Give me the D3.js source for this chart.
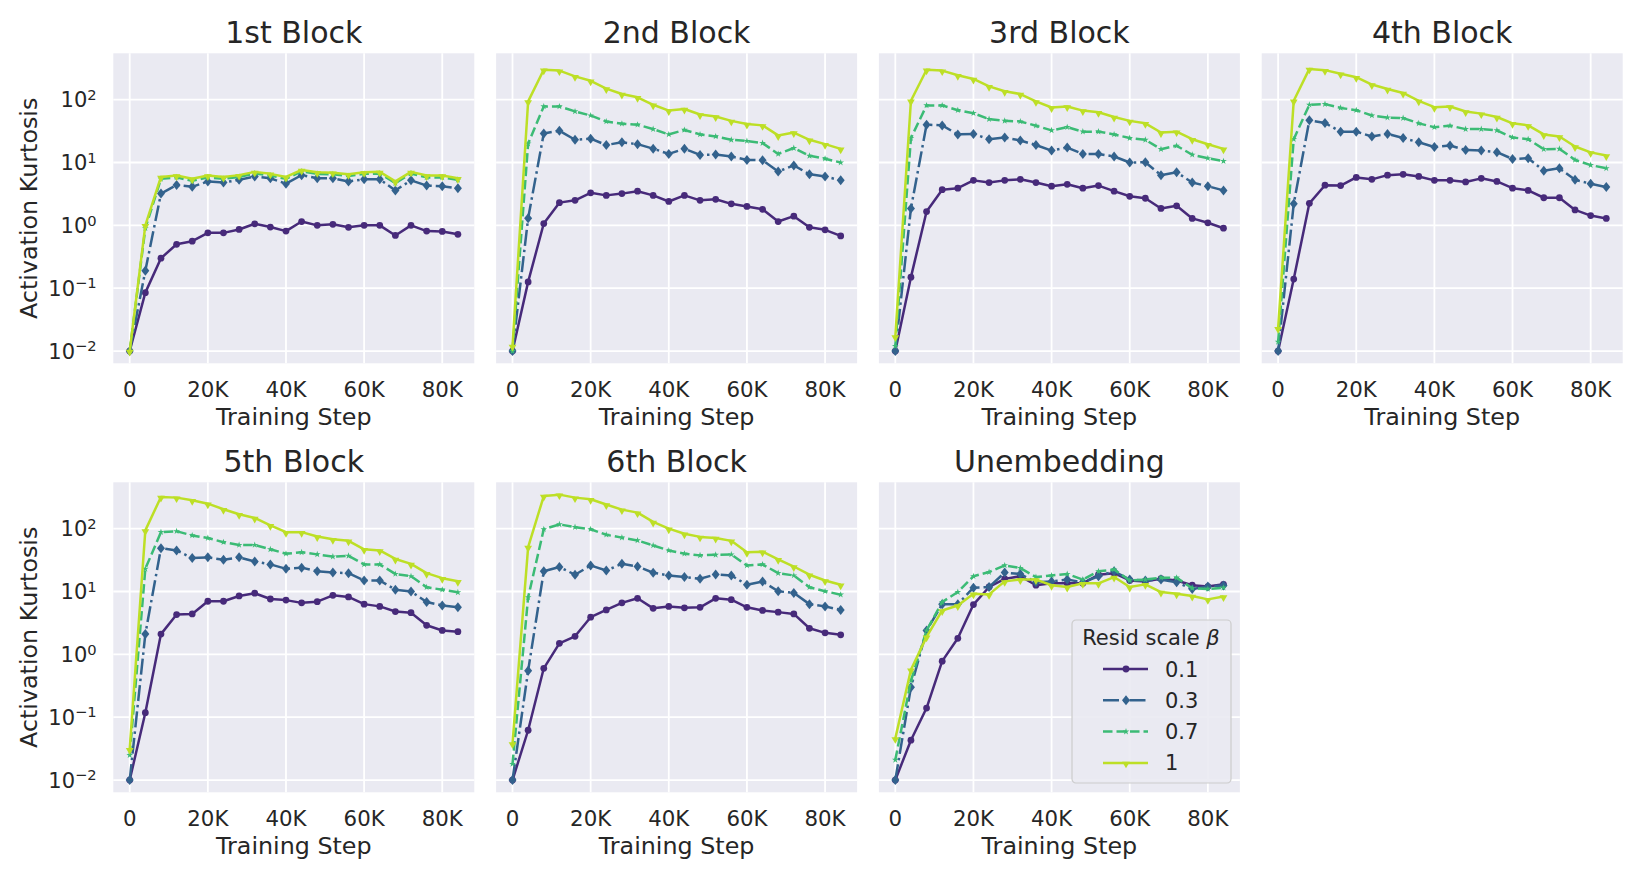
<html>
<head>
  <script src="https://d3js.org/d3.v7.min.js" charset="utf-8"></script>
  <title>Activation Kurtosis</title>
  <style>
    * {
      margin: 0;
      padding: 0;
    }
    body {
      background-color: white;
    }
    text {
      font-family: "DejaVu Sans", sans-serif;
      fill: #262626;
    }
  </style>
</head>
<body>
<div id="chart"></div>

<script>
  var steps = [0, 4000, 8000, 12000, 16000, 20000, 24000, 28000, 32000, 36000, 40000,
    44000, 48000, 52000, 56000, 60000, 64000, 68000, 72000, 76000, 80000, 84000];
  var betas = ["0.1", "0.3", "0.7", "1"];
  var titles = ["1st Block", "2nd Block", "3rd Block", "4th Block", "5th Block", "6th Block", "Unembedding"];
  var xTicks = [0, 20000, 40000, 60000, 80000];
  var xTickLabels = ["0", "20K", "40K", "60K", "80K"];
  var yTicks = [0.01, 0.1, 1, 10, 100];
  var yTickExps = ["\u22122", "\u22121", "0", "1", "2"];

  // one array per panel, one row per beta (0.1, 0.3, 0.7, 1)
  var block1 = [
    [0.01, 0.085, 0.30, 0.50, 0.56, 0.76, 0.76, 0.86, 1.06, 0.94, 0.81, 1.15, 1.0, 1.04, 0.93, 1.0, 1.0, 0.69, 1.0, 0.81, 0.80, 0.72],
    [0.01, 0.19, 3.2, 4.4, 4.1, 5.0, 4.8, 5.3, 6.0, 5.6, 4.6, 6.3, 5.6, 5.6, 5.0, 5.4, 5.4, 3.6, 5.2, 4.3, 4.2, 3.9],
    [0.01, 0.9, 5.5, 5.8, 5.1, 5.8, 5.5, 5.9, 6.7, 6.2, 5.5, 7.2, 6.6, 6.5, 6.1, 6.6, 6.7, 4.7, 6.7, 5.8, 5.8, 5.3],
    [0.01, 1.0, 5.9, 6.2, 5.5, 6.2, 5.9, 6.3, 7.1, 6.6, 5.9, 7.6, 7.0, 6.9, 6.5, 7.0, 7.1, 5.0, 7.1, 6.2, 6.2, 5.6]
  ];
  var block2 = [
    [0.01, 0.126, 1.07, 2.3, 2.5, 3.3, 3.0, 3.2, 3.5, 3.0, 2.4, 3.0, 2.5, 2.6, 2.2, 2.0, 1.8, 1.15, 1.4, 0.93, 0.85, 0.68],
    [0.01, 1.3, 29, 32, 23, 24, 19, 21, 19.6, 16.6, 13.7, 16.6, 13.2, 13.4, 12.5, 11, 10.9, 7.2, 9, 6.5, 6, 5.2],
    [0.01, 20, 78, 78, 65, 56, 45, 41.5, 40, 34, 28, 33, 28, 26, 23, 22, 20.4, 13.7, 17, 12.8, 11.5, 10],
    [0.012, 94, 300, 290, 235, 200, 150, 123, 109, 83, 67, 71, 58, 54, 46, 41, 39, 27, 30, 23, 19.6, 16.5]
  ];
  var block3 = [
    [0.01, 0.15, 1.66, 3.7, 3.9, 5.2, 4.8, 5.2, 5.4, 4.8, 4.2, 4.5, 3.9, 4.3, 3.5, 2.9, 2.7, 1.86, 2.05, 1.29, 1.1, 0.9],
    [0.01, 1.86, 40, 39, 28, 28.5, 23.5, 25, 22.4, 19, 15.5, 17.3, 13.7, 13.7, 12.5, 10, 10.1, 6.3, 7.0, 4.8, 4.2, 3.6],
    [0.012, 24.5, 81, 81, 68, 61, 49, 46, 45, 38.5, 32.5, 36.5, 31, 31, 28, 24.5, 23, 16.3, 18.5, 13.3, 11.7, 10.5],
    [0.017, 96, 300, 290, 245, 214, 163, 136, 123, 94, 75, 78, 67, 63, 53, 46, 42, 30, 31, 23.5, 19.5, 16.5]
  ];
  var block4 = [
    [0.01, 0.14, 2.24, 4.35, 4.3, 5.8, 5.4, 6.3, 6.5, 6.0, 5.2, 5.2, 4.9, 5.6, 5.0, 3.9, 3.6, 2.75, 2.75, 1.76, 1.43, 1.29],
    [0.01, 2.2, 47, 42.5, 31, 31, 26, 28.5, 24.5, 21, 17.6, 18.7, 15.8, 15.5, 14.6, 11.4, 11.7, 7.4, 8.1, 5.3, 4.6, 4.06],
    [0.014, 23.5, 83, 85, 74, 68, 56, 52, 51, 42, 36.5, 38.5, 34, 34, 32.5, 25, 23.5, 16.3, 16.5, 11, 9.1, 8.1],
    [0.023, 96, 309, 295, 259, 228, 174, 148, 128, 96, 76, 78, 65, 60, 53, 42, 39, 28, 26, 18, 14.5, 12.9]
  ];
  var block5 = [
    [0.01, 0.118, 2.1, 4.3, 4.4, 7.0, 7.0, 8.5, 9.4, 7.6, 7.3, 6.6, 6.9, 8.7, 8.2, 6.3, 5.8, 4.8, 4.6, 2.9, 2.4, 2.3],
    [0.01, 2.1, 49, 45, 34, 35, 32, 35, 30, 27, 23, 24, 21, 20, 19.6, 15, 15, 10.7, 10, 6.8, 6, 5.6],
    [0.025, 23, 88, 91, 78, 71, 61, 55, 55, 47, 40, 42, 39, 36, 37, 27, 27, 19, 17.5, 11.7, 10.7, 9.7],
    [0.031, 94, 320, 312, 283, 250, 204, 170, 148, 113, 88, 88, 75, 68, 64, 47, 45, 33, 27.5, 19.6, 16.3, 14.6]
  ];
  var block6 = [
    [0.01, 0.062, 0.60, 1.5, 1.94, 3.9, 5.1, 6.6, 7.8, 5.4, 5.8, 5.5, 5.6, 7.8, 7.4, 5.6, 5.0, 4.7, 4.4, 2.6, 2.2, 2.05],
    [0.01, 0.55, 21, 24.5, 18.5, 26, 21.6, 27.6, 25, 19.9, 18, 17, 16, 18.7, 18, 12.8, 14.4, 10.1, 9.5, 6.3, 5.8, 5.1],
    [0.018, 8.1, 98, 117, 106, 98, 80, 72, 65, 54, 45, 40, 37.6, 38.4, 38.8, 26, 27, 19.6, 18, 11.7, 10.1, 8.9],
    [0.038, 51, 330, 348, 312, 294, 242, 201, 180, 128, 100, 83, 74, 71, 64, 42, 43, 32.5, 25, 18.5, 15, 12.8]
  ];
  var unembed = [
    [0.01, 0.043, 0.14, 0.78, 1.8, 6.2, 11.8, 15.9, 17.5, 12.6, 13.5, 13.5, 13.5, 18.5, 19.6, 15, 14.5, 16, 15, 12.6, 12, 13],
    [0.01, 0.30, 2.4, 6.3, 6.3, 11.5, 11.8, 20, 19, 14, 14.5, 15.5, 14, 17.5, 21, 15.5, 15, 15.5, 14, 11, 12, 12.5],
    [0.021, 0.38, 2.4, 6.8, 9.8, 17.5, 20.4, 26, 23.6, 17, 18, 19, 15.5, 21, 22.4, 15, 15.5, 16.6, 16.6, 11.3, 11, 11.5],
    [0.046, 0.57, 1.9, 5.0, 6.0, 9.2, 9.0, 14.5, 15.5, 15.5, 12.6, 11.8, 13.5, 13.5, 17, 11.8, 13, 9.8, 9.2, 8.5, 7.5, 8.3]
  ];
  var panels = [block1, block2, block3, block4, block5, block6, unembed];

  var w = 1644;
  var h = 877;
  var pw = 361;
  var ph = 310;
  var lefts = [113.3, 496.1, 878.9, 1261.7];
  var tops = [53.3, 482.3];

  var colors = ["#472a7a", "#33628d", "#3bbb75", "#bddf26"];
  var dashes = [null, "16,4,2.5,4", "9.5,4", null];

  var diamond = {
    draw: function(c, s) {
      var r = Math.sqrt(s) / 2;
      c.moveTo(0, -r * 1.25);
      c.lineTo(r, 0);
      c.lineTo(0, r * 1.25);
      c.lineTo(-r, 0);
      c.closePath();
    }
  };
  var shapes = [d3.symbolCircle, diamond, d3.symbolStar, d3.symbolTriangle];
  var sizes = [36, 64, 14, 26];

  var x = d3.scaleLinear().domain([-4200, 88200]).range([0, pw]);
  var y = d3.scaleLog().domain([Math.pow(10, -2.195), Math.pow(10, 2.738)]).range([ph, 0]);

  var svg = d3.select("#chart")
    .append("svg")
    .attr("width", w)
    .attr("height", h);

  var line = d3.line()
    .x(function(d, i) { return x(steps[i]); })
    .y(function(d) { return y(d); });

  function symbolPath(k) {
    return d3.symbol().type(shapes[k]).size(sizes[k])();
  }

  function markerTransform(k, px, py) {
    // triangles point down ("v" markers)
    if (k == 3) return "translate(" + px + "," + (py + 1) + ") rotate(180)";
    return "translate(" + px + "," + py + ")";
  }

  panels.forEach(function(series, p) {
    var col = p % 4;
    var row = Math.floor(p / 4);
    var g = svg.append("g")
      .attr("transform", "translate(" + lefts[col] + "," + tops[row] + ")");

    g.append("rect")
      .attr("width", pw)
      .attr("height", ph)
      .attr("fill", "#eaeaf2");

    g.selectAll(".xgrid")
      .data(xTicks)
      .enter()
      .append("line")
      .attr("x1", function(d) { return x(d); })
      .attr("x2", function(d) { return x(d); })
      .attr("y1", 0)
      .attr("y2", ph)
      .attr("stroke", "white")
      .attr("stroke-width", 1.8);

    g.selectAll(".ygrid")
      .data(yTicks)
      .enter()
      .append("line")
      .attr("x1", 0)
      .attr("x2", pw)
      .attr("y1", function(d) { return y(d); })
      .attr("y2", function(d) { return y(d); })
      .attr("stroke", "white")
      .attr("stroke-width", 1.8);

    // x tick labels and label
    g.selectAll(".xlab")
      .data(xTicks)
      .enter()
      .append("text")
      .attr("x", function(d) { return x(d); })
      .attr("y", ph + 33.6)
      .attr("text-anchor", "middle")
      .style("font-size", "21.3px")
      .text(function(d, i) { return xTickLabels[i]; });

    g.append("text")
      .attr("x", pw / 2)
      .attr("y", ph + 61.5)
      .attr("text-anchor", "middle")
      .style("font-size", "23.8px")
      .text("Training Step");

    g.append("text")
      .attr("x", pw / 2)
      .attr("y", -10)
      .attr("text-anchor", "middle")
      .style("font-size", "30px")
      .text(titles[p]);

    if (col == 0) {
      var yl = g.selectAll(".ylab")
        .data(yTicks)
        .enter()
        .append("text")
        .attr("x", -16.6)
        .attr("y", function(d) { return y(d) + 7.5; })
        .attr("text-anchor", "end")
        .style("font-size", "21px");
      yl.append("tspan").text("10");
      yl.append("tspan")
        .attr("dy", "-0.5em")
        .style("font-size", "14.7px")
        .text(function(d, i) { return yTickExps[i]; });

      g.append("text")
        .attr("transform", "translate(-76," + (ph / 2) + ") rotate(-90)")
        .attr("text-anchor", "middle")
        .style("font-size", "23.8px")
        .text("Activation Kurtosis");
    }

    series.forEach(function(vals, k) {
      g.append("path")
        .datum(vals)
        .attr("d", line)
        .attr("fill", "none")
        .attr("stroke", colors[k])
        .attr("stroke-width", 2.5)
        .attr("stroke-linejoin", "round")
        .attr("stroke-dasharray", dashes[k]);

      g.selectAll(".m" + k)
        .data(vals)
        .enter()
        .append("path")
        .attr("d", symbolPath(k))
        .attr("transform", function(d, i) { return markerTransform(k, x(steps[i]), y(d)); })
        .attr("fill", colors[k]);
    });
  });

  // legend inside the Unembedding panel
  var lg = svg.append("g").attr("transform", "translate(1072,620)");
  lg.append("rect")
    .attr("width", 159)
    .attr("height", 163)
    .attr("rx", 4)
    .attr("fill", "#eaeaf2")
    .attr("fill-opacity", 0.9)
    .attr("stroke", "#cccccc")
    .attr("stroke-width", 1.2);

  var lt = lg.append("text")
    .attr("x", 79)
    .attr("y", 25)
    .attr("text-anchor", "middle")
    .style("font-size", "21px");
  lt.append("tspan").text("Resid scale ");
  lt.append("tspan").style("font-style", "italic").text("\u03b2");

  betas.forEach(function(b, k) {
    var cy = 49 + k * 31.3;
    lg.append("line")
      .attr("x1", 31)
      .attr("x2", 76)
      .attr("y1", cy)
      .attr("y2", cy)
      .attr("stroke", colors[k])
      .attr("stroke-width", 2.5)
      .attr("stroke-dasharray", dashes[k]);
    lg.append("path")
      .attr("d", symbolPath(k))
      .attr("transform", markerTransform(k, 54, cy))
      .attr("fill", colors[k]);
    lg.append("text")
      .attr("x", 93)
      .attr("y", cy + 7.5)
      .style("font-size", "21px")
      .text(b);
  });
</script>

</body>
</html>
